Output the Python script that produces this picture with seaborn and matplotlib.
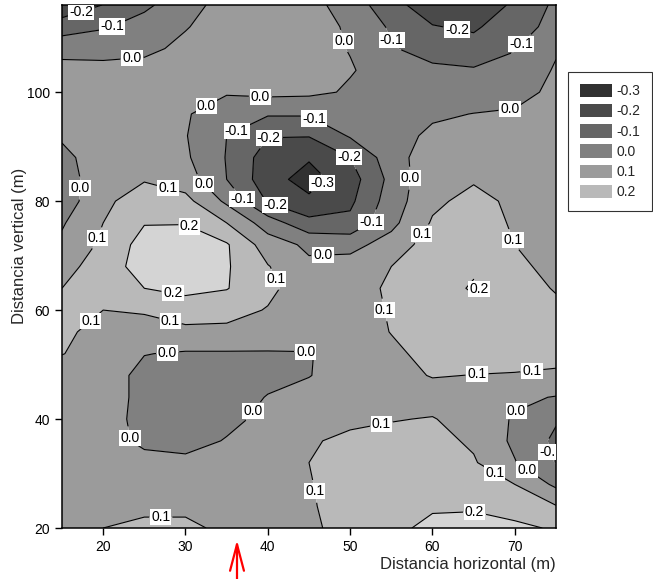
import numpy as np
import matplotlib
matplotlib.use("Agg")
import matplotlib.pyplot as plt
from matplotlib.patches import Patch
import seaborn as sns

# ---- grid coordinates (m) ----
x_m = [15, 20, 25, 30, 35, 40, 45, 50, 55, 60, 65, 70, 75]
y_m = [20, 24, 28, 32, 36, 40, 44, 48, 52, 56, 60, 64, 68, 72, 76, 80,
       84, 88, 92, 96, 100, 104, 108, 112, 116]

# ---- values, one row per vertical distance ----
z_y020 = [0.08, 0.10, 0.11, 0.11, 0.09, 0.08, 0.085, 0.13, 0.18, 0.22, 0.23, 0.22, 0.19]
z_y024 = [0.07, 0.08, 0.09, 0.09, 0.08, 0.08, 0.09, 0.14, 0.17, 0.19, 0.19, 0.16, 0.105]
z_y028 = [0.06, 0.06, 0.06, 0.06, 0.07, 0.08, 0.095, 0.14, 0.16, 0.17, 0.14, 0.10, -0.02]
z_y032 = [0.05, 0.05, 0.03, 0.02, 0.04, 0.06, 0.10, 0.14, 0.15, 0.15, 0.11, 0.005, -0.105]
z_y036 = [0.05, 0.04, -0.02, -0.03, 0.005, 0.04, 0.09, 0.12, 0.13, 0.13, 0.085, -0.02, -0.12]
z_y040 = [0.05, 0.04, -0.03, -0.04, -0.02, 0.02, 0.05, 0.08, 0.095, 0.105, 0.06, -0.01, -0.09]
z_y044 = [0.05, 0.05, -0.03, -0.05, -0.05, 0.005, 0.03, 0.05, 0.06, 0.06, 0.05, 0.02, -0.005]
z_y048 = [0.05, 0.05, -0.03, -0.04, -0.04, -0.03, -0.003, 0.04, 0.07, 0.105, 0.098, 0.095, 0.09]
z_y052 = [0.103, 0.06, 0.003, -0.01, -0.01, -0.01, -0.005, 0.04, 0.08, 0.13, 0.14, 0.13, 0.12]
z_y056 = [0.115, 0.075, 0.08, 0.08, 0.08, 0.07, 0.05, 0.05, 0.103, 0.15, 0.16, 0.15, 0.13]
z_y060 = [0.13, 0.10, 0.105, 0.14, 0.13, 0.095, 0.05, 0.05, 0.11, 0.16, 0.18, 0.16, 0.13]
z_y064 = [0.10, 0.15, 0.20, 0.23, 0.205, 0.12, 0.05, 0.06, 0.115, 0.17, 0.207, 0.16, 0.09]
z_y068 = [0.07, 0.14, 0.25, 0.28, 0.21, 0.105, 0.02, 0.04, 0.10, 0.16, 0.19, 0.115, 0.08]
z_y072 = [0.02, 0.12, 0.24, 0.26, 0.21, 0.05, -0.02, -0.03, 0.04, 0.15, 0.18, 0.10, 0.07]
z_y076 = [-0.01, 0.10, 0.195, 0.195, 0.10, -0.05, -0.17, -0.175, -0.026, 0.11, 0.16, 0.085, 0.06]
z_y080 = [-0.05, 0.07, 0.17, 0.13, -0.02, -0.21, -0.28, -0.22, -0.05, 0.08, 0.13, 0.08, 0.06]
z_y084 = [-0.04, 0.05, 0.09, 0.05, -0.10, -0.26, -0.34, -0.245, -0.07, 0.08, 0.09, 0.07, 0.07]
z_y088 = [-0.02, 0.04, 0.06, 0.015, -0.105, -0.25, -0.29, -0.20, -0.045, 0.06, 0.05, 0.06, 0.06]
z_y092 = [0.01, 0.05, 0.06, 0.005, -0.10, -0.195, -0.195, -0.09, -0.04, 0.02, 0.04, 0.05, 0.05]
z_y096 = [0.05, 0.06, 0.06, 0.01, -0.06, -0.09, -0.09, -0.07, -0.05, -0.015, 0.002, 0.01, 0.03]
z_y100 = [0.04, 0.05, 0.05, 0.05, 0.01, 0.025, 0.02, -0.01, -0.05, -0.06, -0.055, -0.03, 0.02]
z_y104 = [0.03, 0.025, 0.03, 0.04, 0.05, 0.05, 0.04, 0.005, -0.03, -0.075, -0.09, -0.07, 0.01]
z_y108 = [-0.03, -0.03, -0.02, 0.02, 0.05, 0.06, 0.025, -0.003, -0.09, -0.15, -0.16, -0.105, -0.01]
z_y112 = [-0.15, -0.11, -0.06, -0.005, 0.04, 0.05, 0.03, -0.01, -0.115, -0.195, -0.215, -0.14, -0.07]
z_y116 = [-0.27, -0.198, -0.12, -0.04, 0.04, 0.05, 0.03, -0.04, -0.17, -0.25, -0.26, -0.185, -0.08]

rows = [z_y020, z_y024, z_y028, z_y032, z_y036, z_y040, z_y044, z_y048, z_y052,
        z_y056, z_y060, z_y064, z_y068, z_y072, z_y076, z_y080, z_y084, z_y088,
        z_y092, z_y096, z_y100, z_y104, z_y108, z_y112, z_y116]

levels = [-0.3, -0.2, -0.1, 0.0, 0.1, 0.2]
legend_labels = ["-0.3", "-0.2", "-0.1", "0.0", "0.1", "0.2"]
band_colors = ["#313131", "#4a4a4a", "#666666", "#808080", "#9b9b9b", "#b9b9b9", "#d4d4d4"]

# where the contour labels sit (m)
label_x = [17.4, 21.1, 23.5, 49.5, 55.2, 62.9, 70.9, 69.4, 32.2, 39.1, 35.7, 45.6,
           40.1, 49.9, 47.3, 37.1, 41.0, 52.6, 32.4, 46.7, 57.4, 17.2, 27.9, 19.3,
           30.4, 41.8, 28.4, 28.2, 18.4, 58.4, 69.6, 54.1, 67.2, 65.4, 72.1, 27.8,
           44.6, 38.5, 23.0, 70.0, 73.9, 71.3, 53.8, 45.2, 67.2, 65.1, 27.0]
label_y = [114.5, 112.1, 106.2, 109.5, 109.7, 111.0, 108.6, 97.2, 98.5, 99.1, 94.5, 95.2,
           92.1, 88.1, 82.0, 80.6, 79.8, 76.1, 83.5, 69.7, 84.2, 82.4, 82.4, 73.2,
           75.0, 66.2, 62.4, 58.2, 58.2, 74.3, 72.8, 60.0, 61.3, 48.4, 48.4, 52.7,
           52.7, 41.1, 36.5, 42.2, 33.8, 30.3, 39.1, 26.6, 29.2, 22.8, 21.7]

sns.set_theme(style="ticks", rc={
    "axes.linewidth": 1.1,
    "xtick.major.size": 5, "ytick.major.size": 5,
    "xtick.major.width": 1.0, "ytick.major.width": 1.0,
    "xtick.direction": "out", "ytick.direction": "out",
})
plt.rcParams["font.family"] = ["Liberation Sans", "DejaVu Sans"]

fig = plt.figure(figsize=(6.53, 5.79), dpi=100)
ax = fig.add_axes([62 / 653, 1 - 528 / 579, (556 - 62) / 653, (528 - 5) / 579])

X, Y = np.meshgrid(np.array(x_m, float), np.array(y_m, float))
Z = np.array(rows, float)

fill_levels = [-1.0] + levels + [1.0]
ax.contourf(X, Y, Z, levels=fill_levels, colors=band_colors, antialiased=True)
cs = ax.contour(X, Y, Z, levels=levels, colors="black", linewidths=0.8,
                linestyles="solid")
ax.set_xlim(15, 75)
ax.set_ylim(20, 116)
labs = ax.clabel(cs, fmt="%.1f", fontsize=10, inline=True, inline_spacing=2,
                 manual=list(zip(label_x, label_y)))
for t in labs:
    t.set_rotation(0)
    t.set_bbox(dict(facecolor="white", edgecolor="none", pad=0.8))

ax.set_xticks([20, 30, 40, 50, 60, 70])
ax.set_yticks([20, 40, 60, 80, 100])
ax.tick_params(labelsize=10, colors="black")
for s in ax.spines.values():
    s.set_color("black")
ax.set_ylabel("Distancia vertical (m)", fontsize=12)
ax.yaxis.set_label_coords(-0.07, 0.54)
ax.set_xlabel("Distancia horizontal (m)", fontsize=12, loc="right", labelpad=2)

handles = [Patch(facecolor=c, edgecolor="none") for c in band_colors[:6]]
leg = fig.legend(handles, legend_labels, loc="upper left",
                 bbox_to_anchor=(568 / 653, 1 - 72 / 579), frameon=True,
                 fancybox=False, edgecolor="black", fontsize=10,
                 handlelength=2.3, handleheight=1.1, labelspacing=0.42,
                 handletextpad=0.35, borderpad=0.85, borderaxespad=0)
leg.get_frame().set_linewidth(0.8)

ax.annotate("", xy=(237 / 653, 1 - 540 / 579), xytext=(237 / 653, 0.0),
            xycoords="figure fraction", textcoords="figure fraction",
            arrowprops=dict(arrowstyle="->,head_length=1.9,head_width=0.5",
                            color="red", lw=1.6, mutation_scale=10,
                            shrinkA=0, shrinkB=0))

fig.savefig("out.png", dpi=100)
